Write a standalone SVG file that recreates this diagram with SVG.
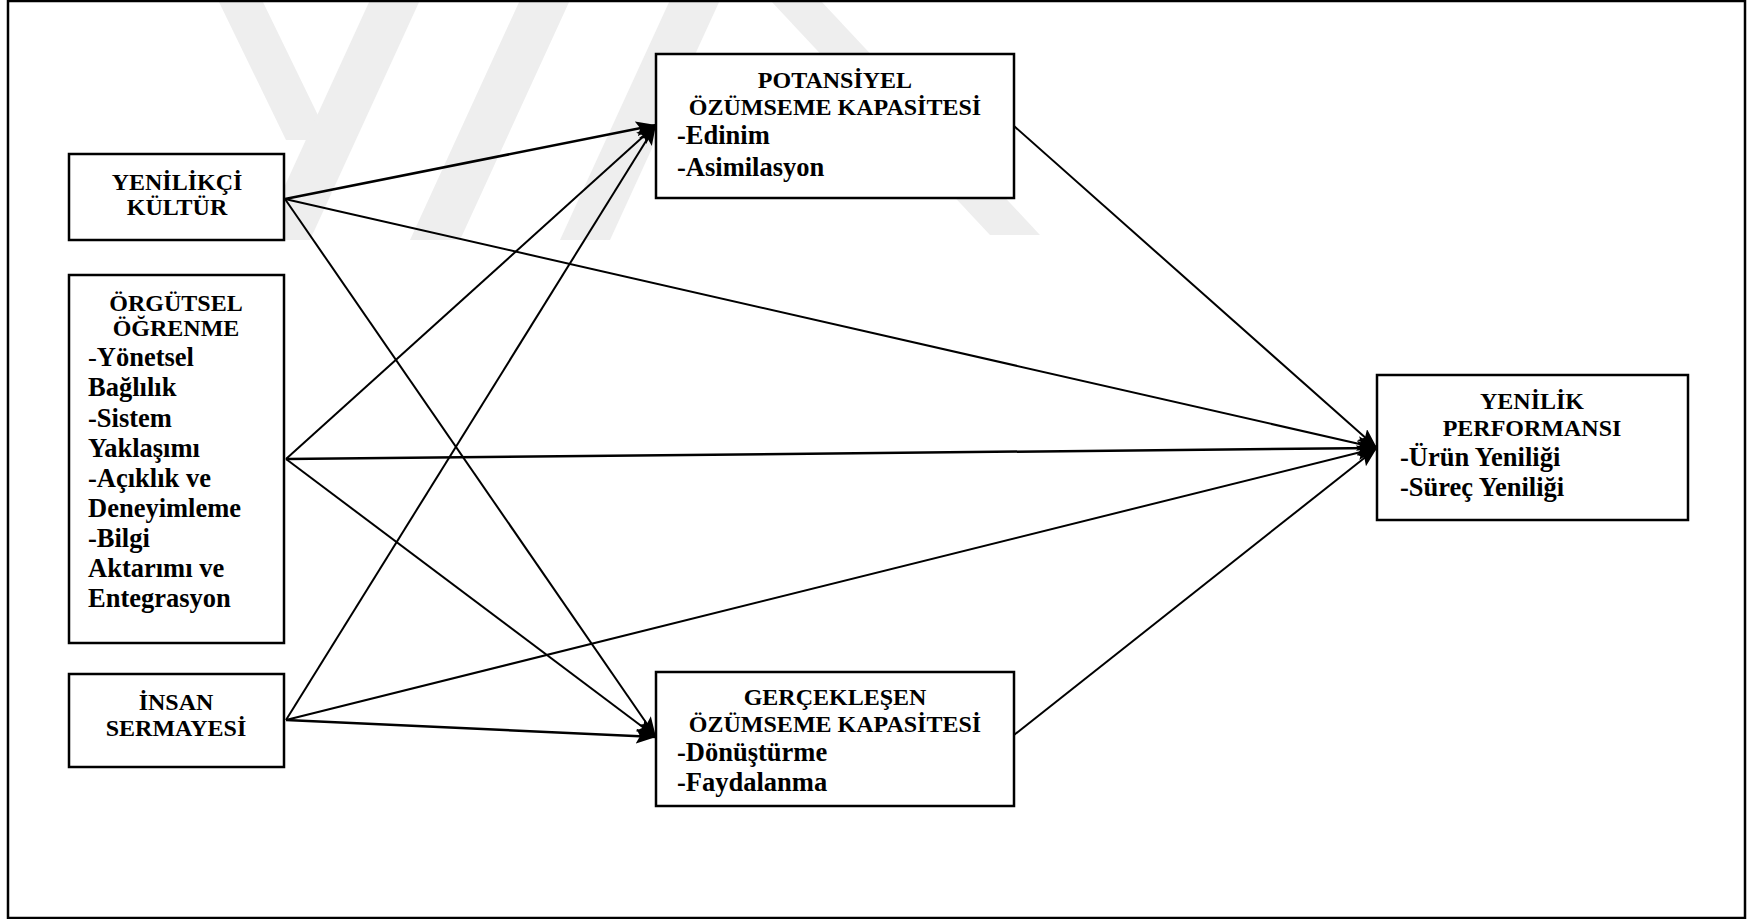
<svg xmlns="http://www.w3.org/2000/svg" width="1747" height="919" viewBox="0 0 1747 919">
<style>
.box{fill:#fff;stroke:#000;stroke-width:2.5}
.t{font-family:"Liberation Serif","Times New Roman",serif;font-weight:bold;fill:#000}
.h{font-size:24px;text-anchor:middle}
.i{font-size:26.5px}
.n{font-weight:normal}
.c{stroke:#000;stroke-width:2;fill:none;marker-end:url(#ah)}
.wm{fill:#eeeeee}
</style>
<defs>
<marker id="ah" markerUnits="userSpaceOnUse" markerWidth="22" markerHeight="16" refX="20" refY="7.5" orient="auto" viewBox="0 0 22 16">
<path d="M0,0 L20,7.5 L0,15 L4,7.5 z" fill="#000"/>
</marker>
</defs>
<rect x="0" y="0" width="1747" height="919" fill="#fff"/>
<g id="watermark">
<polygon class="wm" points="218,0 262,0 330,140 286,140"/>
<polygon class="wm" points="370,0 420,0 310,240 260,240"/>
<polygon class="wm" points="520,0 570,0 460,240 410,240"/>
<polygon class="wm" points="670,0 720,0 610,240 560,240"/>
<polygon class="wm" points="770,0 820,0 1040,235 990,235"/>
</g>
<rect x="8" y="1" width="1737" height="917" fill="none" stroke="#000" stroke-width="2.5"/>
<g id="connectors">
<line class="c" x1="285" y1="199" x2="656" y2="125" style="stroke-width:2.5"/>
<line class="c" x1="285" y1="199" x2="1377" y2="448"/>
<line class="c" x1="285" y1="199" x2="656" y2="737"/>
<line class="c" x1="286" y1="459" x2="656" y2="125"/>
<line class="c" x1="286" y1="459" x2="1377" y2="448" style="stroke-width:2.5"/>
<line class="c" x1="286" y1="459" x2="656" y2="737"/>
<line class="c" x1="286" y1="720" x2="656" y2="125"/>
<line class="c" x1="286" y1="720" x2="1377" y2="448"/>
<line class="c" x1="286" y1="720" x2="656" y2="737" style="stroke-width:2.5"/>
<line class="c" x1="1014" y1="126" x2="1377" y2="448"/>
<line class="c" x1="1014" y1="735" x2="1377" y2="448"/>
</g>
<g id="yenilikci-kultur">
<rect class="box" x="69" y="154" width="215" height="86"/>
<text class="t h" x="177" y="190">YENİLİKÇİ</text>
<text class="t h" x="177" y="215">KÜLTÜR</text>
</g>
<g id="orgutsel-ogrenme">
<rect class="box" x="69" y="275" width="215" height="368"/>
<text class="t h" x="176" y="311">ÖRGÜTSEL</text>
<text class="t h" x="176" y="336">ÖĞRENME</text>
<text class="t i" x="88" y="366"><tspan class="n">-</tspan>Yönetsel</text>
<text class="t i" x="88" y="396">Bağlılık</text>
<text class="t i" x="88" y="427">-Sistem</text>
<text class="t i" x="88" y="457">Yaklaşımı</text>
<text class="t i" x="88" y="487">-Açıklık ve</text>
<text class="t i" x="88" y="517">Deneyimleme</text>
<text class="t i" x="88" y="547">-Bilgi</text>
<text class="t i" x="88" y="577">Aktarımı ve</text>
<text class="t i" x="88" y="607">Entegrasyon</text>
</g>
<g id="insan-sermayesi">
<rect class="box" x="69" y="674" width="215" height="93"/>
<text class="t h" x="176" y="710">İNSAN</text>
<text class="t h" x="176" y="736">SERMAYESİ</text>
</g>
<g id="potansiyel">
<rect class="box" x="656" y="54" width="358" height="144"/>
<text class="t h" x="835" y="88">POTANSİYEL</text>
<text class="t h" x="835" y="115">ÖZÜMSEME KAPASİTESİ</text>
<text class="t i" x="677" y="144">-Edinim</text>
<text class="t i" x="677" y="176">-Asimilasyon</text>
</g>
<g id="gerceklesen">
<rect class="box" x="656" y="672" width="358" height="134"/>
<text class="t h" x="835" y="705">GERÇEKLEŞEN</text>
<text class="t h" x="835" y="732">ÖZÜMSEME KAPASİTESİ</text>
<text class="t i" x="677" y="761">-Dönüştürme</text>
<text class="t i" x="677" y="791">-Faydalanma</text>
</g>
<g id="yenilik-performansi">
<rect class="box" x="1377" y="375" width="311" height="145"/>
<text class="t h" x="1532" y="409">YENİLİK</text>
<text class="t h" x="1532" y="436">PERFORMANSI</text>
<text class="t i" x="1400" y="466">-Ürün Yeniliği</text>
<text class="t i" x="1400" y="496">-Süreç Yeniliği</text>
</g>
</svg>
